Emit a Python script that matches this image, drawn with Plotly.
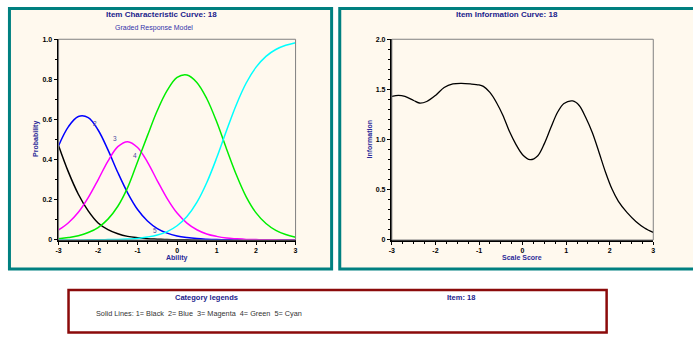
import plotly.graph_objects as go

W, H = 693, 337

# ---------------- data ----------------
theta = [-3.0, -2.75, -2.5, -2.25, -2.0, -1.75, -1.5, -1.25, -1.0, -0.75, -0.5, -0.25,
         0.0, 0.25, 0.5, 0.75, 1.0, 1.25, 1.5, 1.75, 2.0, 2.25, 2.5, 2.75, 3.0]

cat1_black = [0.470, 0.338, 0.228, 0.145, 0.085, 0.052, 0.031, 0.018, 0.011, 0.006, 0.004, 0.002,
              0.001, 0.001, 0.0, 0.0, 0.0, 0.0, 0.0, 0.0, 0.0, 0.0, 0.0, 0.0, 0.0]
cat2_blue = [0.470, 0.565, 0.615, 0.610, 0.548, 0.449, 0.336, 0.234, 0.152, 0.095, 0.057, 0.034,
             0.020, 0.012, 0.007, 0.004, 0.002, 0.001, 0.001, 0.0, 0.0, 0.0, 0.0, 0.0, 0.0]
cat3_magenta = [0.050, 0.086, 0.138, 0.211, 0.300, 0.393, 0.465, 0.490, 0.461, 0.388, 0.295, 0.206,
                0.134, 0.084, 0.051, 0.030, 0.018, 0.010, 0.006, 0.003, 0.002, 0.001, 0.001, 0.0, 0.0]
cat4_green = [0.006, 0.012, 0.021, 0.037, 0.062, 0.104, 0.168, 0.262, 0.390, 0.520, 0.645, 0.745,
              0.810, 0.822, 0.785, 0.705, 0.590, 0.455, 0.325, 0.215, 0.135, 0.082, 0.048, 0.027, 0.014]
cat5_cyan = [0.0, 0.0, 0.0, 0.001, 0.001, 0.002, 0.003, 0.005, 0.008, 0.015, 0.025, 0.042,
             0.071, 0.117, 0.187, 0.285, 0.408, 0.544, 0.674, 0.782, 0.861, 0.915, 0.949, 0.970, 0.983]

info_theta = [-3.0, -2.85, -2.7, -2.5, -2.37, -2.2, -2.0, -1.8, -1.6, -1.4, -1.2, -1.0, -0.9,
              -0.75, -0.6, -0.45, -0.3, -0.15, 0.0, 0.17, 0.35, 0.5, 0.65, 0.8, 0.95, 1.15,
              1.3, 1.45, 1.6, 1.75, 1.9, 2.05, 2.2, 2.4, 2.6, 2.8, 3.0]
information = [1.43, 1.44, 1.43, 1.39, 1.365, 1.38, 1.44, 1.52, 1.555, 1.56, 1.555, 1.545, 1.53,
               1.47, 1.37, 1.24, 1.08, 0.95, 0.85, 0.80, 0.84, 0.96, 1.12, 1.27, 1.36, 1.385,
               1.34, 1.22, 1.07, 0.88, 0.68, 0.51, 0.385, 0.272, 0.185, 0.12, 0.075]

curve_labels = ["2", "3", "4", "5"]
label_theta = [-2.07, -1.57, -1.07, -0.56]
label_prob = [0.58, 0.505, 0.42, 0.045]

x_ticks = [-3, -2, -1, 0, 1, 2, 3]
x_tick_text = ["-3", "-2", "-1", "0", "1", "2", "3"]
p_ticks = [0, 0.2, 0.4, 0.6, 0.8, 1.0]
p_tick_text = ["0", "0.2", "0.4", "0.6", "0.8", "1.0"]
i_ticks = [0, 0.5, 1.0, 1.5, 2.0]
i_tick_text = ["0", "0.5", "1.0", "1.5", "2.0"]

# ---------------- helpers ----------------
def px(x):
    return x / W

def py(y):
    return 1 - y / H

FONT = "Liberation Sans, Arial, sans-serif"
NAVY = "#1c1c8c"
TEAL = "#008080"
CREAM = "#FFF9EE"

fig = go.Figure()

series = [(cat1_black, "black"), (cat2_blue, "#0000FF"), (cat3_magenta, "#FF00FF"),
          (cat4_green, "#00EE00"), (cat5_cyan, "#00FFFF")]
for vals, col in series:
    fig.add_trace(go.Scatter(x=theta, y=vals, mode="lines",
                             line=dict(color=col, width=1.5, shape="spline"),
                             xaxis="x", yaxis="y", showlegend=False, hoverinfo="skip"))

fig.add_trace(go.Scatter(x=info_theta, y=information, mode="lines",
                         line=dict(color="black", width=1.3, shape="spline", smoothing=0.9),
                         xaxis="x2", yaxis="y2", showlegend=False, hoverinfo="skip"))

tickfont = dict(family=FONT, size=7, color="black", weight="bold")

def xaxis_cfg(domain, anchor):
    return dict(domain=domain, anchor=anchor, range=[-3, 3], tickvals=x_ticks, ticktext=x_tick_text,
                ticks="outside", ticklen=3, tickwidth=1, tickcolor="black",
                minor=dict(dtick=0.25, ticks="outside", ticklen=2, tickcolor="black", showgrid=False),
                showline=True, linecolor="black", linewidth=2, showgrid=False, zeroline=False,
                tickfont=tickfont, fixedrange=True)

def yaxis_cfg(domain, anchor, rng, tv, tt, mdt):
    return dict(domain=domain, anchor=anchor, range=rng, tickvals=tv, ticktext=tt,
                ticks="outside", ticklen=3, tickwidth=1, tickcolor="black",
                minor=dict(dtick=mdt, ticks="outside", ticklen=2, tickcolor="black", showgrid=False),
                showline=True, linecolor="black", linewidth=2, showgrid=False, zeroline=False,
                tickfont=tickfont, fixedrange=True)

ydom = [py(241), py(36)]
fig.update_layout(
    width=W, height=H, autosize=False,
    margin=dict(l=0, r=0, t=0, b=0),
    paper_bgcolor="white", plot_bgcolor="white",
    xaxis=xaxis_cfg([px(56), px(294.7)], "y"),
    yaxis=yaxis_cfg(ydom, "x", [0, 1.0], p_ticks, p_tick_text, 0.1),
    xaxis2=xaxis_cfg([px(391.7), px(655)], "y2"),
    yaxis2=yaxis_cfg(ydom, "x2", [0, 2.0], i_ticks, i_tick_text, 0.1),
)

shapes = [
    dict(type="rect", xref="paper", yref="paper", x0=px(6.5), x1=px(331), y0=py(270.5), y1=py(4.5),
         line=dict(color=TEAL, width=3), fillcolor=CREAM, layer="below"),
    dict(type="rect", xref="paper", yref="paper", x0=px(339.2), x1=px(705), y0=py(270.5), y1=py(4.5),
         line=dict(color=TEAL, width=3), fillcolor=CREAM, layer="below"),
    dict(type="rect", xref="paper", yref="paper", x0=px(66), x1=px(608), y0=py(335.5), y1=py(292),
         line=dict(color="#8B0A0A", width=2.5), fillcolor="white", layer="below"),
    dict(type="rect", xref="x domain", yref="y domain", x0=0, x1=1, y0=0, y1=1,
         line=dict(color="#808080", width=1), layer="above"),
    dict(type="rect", xref="x2 domain", yref="y2 domain", x0=0, x1=1, y0=0, y1=1,
         line=dict(color="#808080", width=1), layer="above"),
]
fig.update_layout(shapes=shapes)

ann = []
def text(x, y, s, size=7, color=NAVY, bold=False, angle=0, xanchor="center"):
    ann.append(dict(x=px(x), y=py(y), xref="paper", yref="paper", text=s, showarrow=False,
                    xanchor=xanchor, yanchor="middle", textangle=angle,
                    font=dict(family=FONT, size=size, color=color, weight="bold" if bold else "normal")))

text(160, 11, "Item Characteristic Curve: 18", size=8, bold=True)
text(152, 24, "Graded Response Model", size=7, color="#3333aa")
text(508, 11, "Item Information Curve: 18", size=8, bold=True)
text(175, 259, "Ability", size=7, bold=True, color="#2b2b99")
text(523, 259, "Scale Score", size=7, bold=True, color="#2b2b99")
text(33, 138, "Probability", size=7, bold=True, color="#2b2b99", angle=-90)
text(369, 138, "Information", size=7, bold=True, color="#2b2b99", angle=-90)
text(205, 300, "Category legends", size=7.5, bold=True)
text(461, 300, "Item: 18", size=7.5, bold=True)
text(92, 316, "Solid Lines: 1= Black  2= Blue  3= Magenta  4= Green  5= Cyan", size=7.3,
     color="#333333", xanchor="left")

for lab, lx, ly in zip(curve_labels, label_theta, label_prob):
    ann.append(dict(x=lx, y=ly, xref="x", yref="y", text=lab, showarrow=False,
                    font=dict(family=FONT, size=6.5, color="#4a4aa0")))

fig.update_layout(annotations=ann)

fig.write_html("out.html")
